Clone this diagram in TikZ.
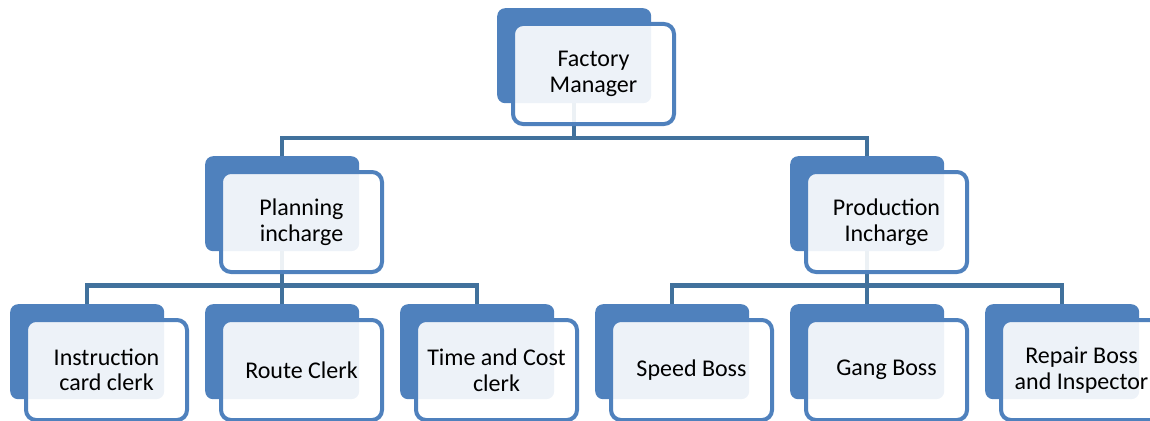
\documentclass[tikz,border=0pt]{standalone}
\usepackage{fontspec}
\setmainfont{Carlito}
\usetikzlibrary{backgrounds}
\definecolor{acc}{RGB}{79,129,189}
\definecolor{lnk}{RGB}{65,113,156}
\begin{document}
\begin{tikzpicture}[x=1pt,y=-1pt,
  backbox/.style={rectangle, rounded corners=8pt, fill=acc, draw=none, inner sep=0pt,
    minimum width=154pt, minimum height=95pt, anchor=north west},
  frontbox/.style={rectangle, rounded corners=10pt, fill=white, fill opacity=0.9, draw=acc,
    line width=4pt, inner sep=0pt, minimum width=161pt, minimum height=100pt, anchor=north west},
  lbl/.style={align=center, text=black, inner sep=0pt,
    font=\fontsize{24}{25.5}\selectfont},
  conn/.style={draw=lnk, line width=4.5pt, line join=miter}]
\useasboundingbox (0,0) rectangle (1150,420);
% level 1
\node[backbox] (b1) at (497,8) {};
\node[frontbox] (f1) at (511,22) {};
\node[lbl] (t1) at (f1.center) {Factory\\Manager};
% level 2
\node[backbox] (b2) at (205,156) {};
\node[frontbox] (f2) at (219,170) {};
\node[lbl] (t2) at (f2.center) {Planning\\incharge};
\node[backbox] (b3) at (790,156) {};
\node[frontbox] (f3) at (804,170) {};
\node[lbl] (t3) at (f3.center) {Production\\Incharge};
% level 3
\node[backbox] (b4) at (10,304) {};
\node[frontbox] (f4) at (24,318) {};
\node[lbl] (t4) at (f4.center) {Instruction\\card clerk};
\node[backbox] (b5) at (205,304) {};
\node[frontbox] (f5) at (219,318) {};
\node[lbl] (t5) at (f5.center) {Route Clerk};
\node[backbox] (b6) at (400,304) {};
\node[frontbox] (f6) at (414,318) {};
\node[lbl] (t6) at (f6.center) {Time and Cost\\clerk};
\node[backbox] (b7) at (595,304) {};
\node[frontbox] (f7) at (609,318) {};
\node[lbl] (t7) at (f7.center) {Speed Boss};
\node[backbox] (b8) at (790,304) {};
\node[frontbox] (f8) at (804,318) {};
\node[lbl] (t8) at (f8.center) {Gang Boss};
\node[backbox] (b9) at (985,304) {};
\node[frontbox] (f9) at (999,318) {};
\node[lbl] (t9) at (f9.center) {Repair Boss\\and Inspector};
% connectors
\coordinate (h1) at (0,138);
\coordinate (h2) at (0,285.5);
\begin{scope}[on background layer]
\draw[conn] (b1.center) -- (b1.center |- h1) -| (b2.north);
\draw[conn] (b1.center |- h1) -| (b3.north);
\draw[conn] (b2.center) -- (b2.center |- h2) -| (b4.north);
\draw[conn] (b2.center |- h2) -| (b5.north);
\draw[conn] (b2.center |- h2) -| (b6.north);
\draw[conn] (b3.center) -- (b3.center |- h2) -| (b7.north);
\draw[conn] (b3.center |- h2) -| (b8.north);
\draw[conn] (b3.center |- h2) -| (b9.north);
\end{scope}
\end{tikzpicture}
\end{document}
